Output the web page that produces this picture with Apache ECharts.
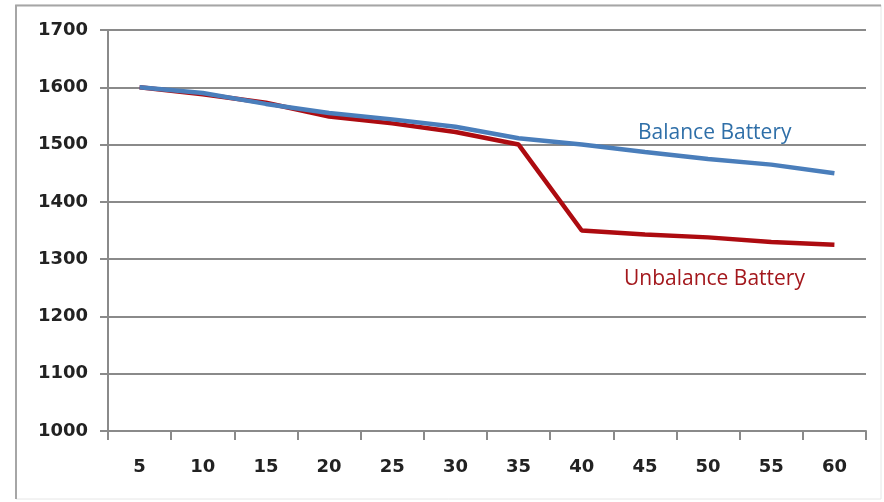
<!DOCTYPE html>
<html>
<head>
<meta charset="utf-8">
<script src="https://cdn.jsdelivr.net/npm/echarts@6/dist/echarts.min.js"></script>
<style>
  html, body { margin: 0; padding: 0; background: #ffffff; }
  #chart { width: 884px; height: 502px; }
</style>
</head>
<body>
<div id="chart"></div>
<script>
// Time steps along the horizontal axis
const categories = ['5', '10', '15', '20', '25', '30', '35', '40', '45', '50', '55', '60'];

// Capacity values for each battery pack
const balanceValues = [1600, 1590, 1571, 1555, 1544, 1531, 1511, 1500, 1487, 1475, 1465, 1450];
const unbalanceValues = [1600, 1588, 1573, 1549, 1537, 1522, 1500, 1350, 1343, 1338, 1330, 1325];

// Value axis range
const yMin = 1000;
const yMax = 1700;
const yStep = 100;

const balanceName = 'Balance Battery';
const unbalanceName = 'Unbalance Battery';

const chart = echarts.init(document.getElementById('chart'));

const labelFont = {
  fontFamily: 'DejaVu Sans',
  fontWeight: 'bold',
  fontSize: 18,
  color: '#222222'
};

chart.setOption({
  animation: false,
  backgroundColor: '#ffffff',
  grid: { left: 108, right: 18, top: 30, bottom: 71, containLabel: false },
  xAxis: {
    type: 'category',
    data: categories,
    boundaryGap: true,
    axisLine: { lineStyle: { color: '#8a8a8a', width: 2 } },
    axisTick: { show: true, length: 9, lineStyle: { color: '#8a8a8a', width: 2 } },
    axisLabel: Object.assign({ margin: 27 }, labelFont),
    splitLine: { show: false }
  },
  yAxis: {
    type: 'value',
    min: yMin,
    max: yMax,
    interval: yStep,
    axisLine: { show: true, lineStyle: { color: '#8a8a8a', width: 2 } },
    axisTick: { show: true, length: 8, lineStyle: { color: '#8a8a8a', width: 2 } },
    axisLabel: Object.assign({ margin: 20, formatter: (v) => String(v) }, labelFont),
    splitLine: { show: true, lineStyle: { color: '#8a8a8a', width: 2 } }
  },
  series: [
    {
      name: unbalanceName,
      type: 'line',
      data: unbalanceValues,
      symbol: 'none',
      lineStyle: { color: '#ad0b10', width: 4.5 },
      z: 2
    },
    {
      name: balanceName,
      type: 'line',
      data: balanceValues,
      symbol: 'none',
      lineStyle: { color: '#4a7ebb', width: 4.5 },
      z: 3
    }
  ],
  graphic: [
    {
      type: 'rect',
      shape: { x: 16, y: 5, width: 865, height: 494 },
      style: { fill: 'none', stroke: '#e6e6e6', lineWidth: 1 },
      silent: true
    },
    {
      type: 'polyline',
      shape: { points: [[16, 499], [16, 5.5], [881, 5.5]] },
      style: { fill: 'none', stroke: '#a6a6a6', lineWidth: 2 },
      silent: true
    },
    {
      type: 'text',
      left: 638,
      top: 123,
      style: {
        text: balanceName,
        fill: '#2f6fa8',
        font: '21px "Open Sans"'
      }
    },
    {
      type: 'text',
      left: 624,
      top: 269,
      style: {
        text: unbalanceName,
        fill: '#a3171c',
        font: '21px "Open Sans"'
      }
    }
  ]
});
</script>
</body>
</html>
